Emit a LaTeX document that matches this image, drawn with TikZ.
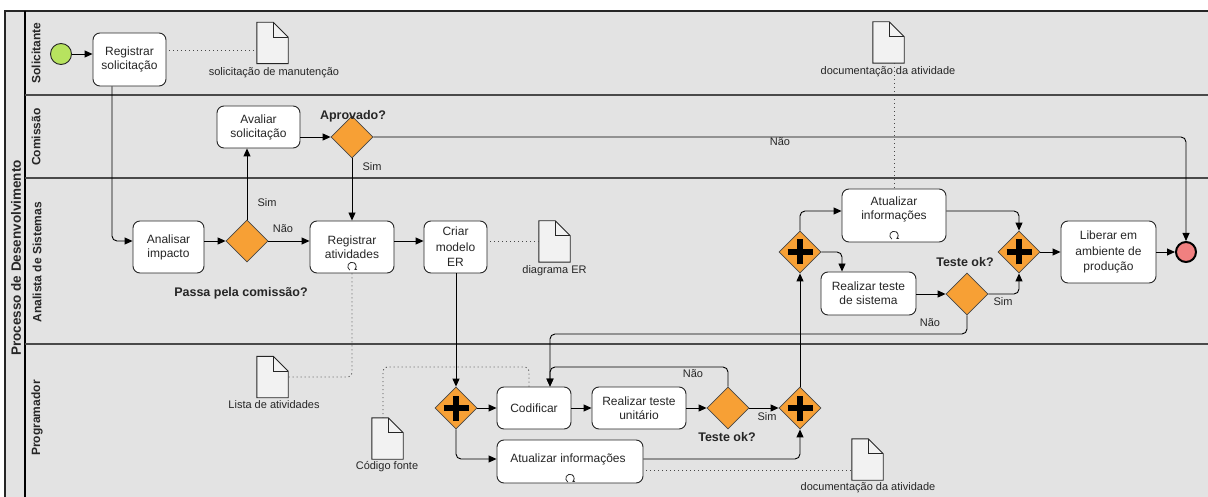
\documentclass[tikz,border=0pt]{standalone}
\usepackage{fontspec}
\setmainfont{Liberation Sans}
\usetikzlibrary{shapes.geometric,arrows.meta,calc}

\definecolor{laneFill}{HTML}{E3E3E3}
\definecolor{laneLine}{HTML}{4A4A4A}
\definecolor{gwFill}{HTML}{F7A035}
\definecolor{startFill}{HTML}{B7E35F}
\definecolor{endFill}{HTML}{F08080}
\definecolor{docFill}{HTML}{F2F2F2}
\definecolor{ink}{HTML}{262626}

% data object: named box plus folded-corner outline
\newcommand\docshape[2]{%
  \node[docbox] (#1) at (#2) {};
  \draw[docline] (#1.north west) -- ([xshift=-15pt]#1.north east)
     -- ([yshift=-15pt]#1.north east) -- (#1.south east) -- (#1.south west) -- cycle;
  \draw[docline, fill=none] ([xshift=-15pt]#1.north east) |- ([yshift=-15pt]#1.north east);
}
% loop marker: open circle with a small tip, centred #2 above the point #1
\newcommand\loopmark[2]{%
  \draw[ink, line width=0.75pt, -{Stealth[length=2.4pt,width=3pt]}]
    ($(#1)+(-2.2,3.6-#2)$) arc[start angle=121, end angle=415, radius=4.2];
}

\begin{document}
\begin{tikzpicture}[x=1pt,y=-1pt,
  task/.style={draw=ink, fill=white, rounded corners=7pt, line width=0.9pt,
    align=center, inner sep=0pt, font=\fontsize{12}{14}\selectfont, text=ink},
  gw/.style={diamond, draw=ink!85, fill=gwFill, line width=0.8pt,
    minimum width=42pt, minimum height=42pt, inner sep=0pt},
  par/.style={gw, path picture={
    \draw[black, line width=5.5pt]
      ([xshift=-12.5pt]path picture bounding box.center) -- ([xshift=12.5pt]path picture bounding box.center)
      ([yshift=-12.5pt]path picture bounding box.center) -- ([yshift=12.5pt]path picture bounding box.center);}},
  flow/.style={draw=black, line width=0.9pt, rounded corners=5pt,
    -{Triangle[length=8pt,width=7pt]}},
  assoc/.style={draw=ink!85, line width=0.9pt, dash pattern=on 1pt off 3pt, rounded corners=4pt},
  lbl/.style={font=\fontsize{11}{13}\selectfont, text=ink, inner sep=0pt},
  qlbl/.style={font=\bfseries\fontsize{12.5}{14}\selectfont, text=ink, inner sep=0pt},
  lanelbl/.style={font=\bfseries\fontsize{12}{14}\selectfont, rotate=90, text=ink, inner sep=0pt},
  docbox/.style={minimum width=31pt, minimum height=41pt, inner sep=0pt},
  docline/.style={draw=ink, fill=docFill, line width=0.9pt, line join=miter},
  lane/.style={draw=laneLine, line width=1.8pt}
]
\useasboundingbox (0,0) rectangle (1208,497);
\fill[white] (0,0) rectangle (1208,497);

% ---- pool and lanes ----
\fill[laneFill] (5,11) rectangle (1208,497);
\draw[ink, line width=1.5pt] (5,497) -- (5,11) -- (1208,11);
\draw[black, line width=2pt] (25,11) -- (25,497);
\draw[lane] (25,95) -- (1208,95);
\draw[lane] (25,178) -- (1208,178);
\draw[lane] (25,344) -- (1208,344);

\node[font=\bfseries\fontsize{13.5}{15}\selectfont, rotate=90, text=ink, inner sep=0pt] (pool) at (16,258) {Processo de Desenvolvimento};
\node[lanelbl] (l1) at (36,53) {Solicitante};
\node[lanelbl] (l2) at (36,137) {Comissão};
\node[lanelbl] (l3) at (37,262) {Analista de Sistemas};
\node[lanelbl] (l4) at (37,418) {Programador};

% ---- events ----
\node[circle, draw=ink, fill=startFill, line width=0.9pt, minimum size=21pt, inner sep=0pt] (s) at (61,54) {};
\node[circle, draw=black, fill=endFill, line width=2pt, minimum size=20pt, inner sep=0pt] (e) at (1186,252) {};

% ---- tasks ----
\node[task, minimum width=73pt, minimum height=53pt] (t1) at (129.5,59.5) {Registrar\\solicitação};
\node[task, minimum width=83pt, minimum height=42pt] (t5) at (258.5,127) {Avaliar\\solicitação};
\node[task, minimum width=71pt, minimum height=52pt] (t2) at (168.5,247) {Analisar\\impacto};
\node[task, minimum width=84pt, minimum height=52pt] (t3) at (352,247) {Registrar\\atividades};
\node[task, minimum width=63pt, minimum height=52pt, font=\fontsize{12}{15.5}\selectfont] (t4) at (455.5,247) {Criar\\modelo\\ER};
\node[task, minimum width=104pt, minimum height=53pt] (t6) at (894,215.5) {};
\node[font=\fontsize{12}{14}\selectfont, align=center, text=ink, inner sep=0pt] (t6txt) at (894,209.5) {Atualizar\\informações};
\node[task, minimum width=95pt, minimum height=43pt] (t7) at (868.5,293.5) {Realizar teste\\de sistema};
\node[task, minimum width=95pt, minimum height=62pt, font=\fontsize{12}{15.5}\selectfont] (t8) at (1108.5,252) {Liberar em\\ambiente de\\produção};
\node[task, minimum width=74pt, minimum height=42pt] (t9) at (534,408) {Codificar};
\node[task, minimum width=94pt, minimum height=42pt] (t10) at (639,408) {Realizar teste\\unitário};
\node[task, minimum width=146pt, minimum height=43pt] (t11) at (570,461.5) {};
\node[font=\fontsize{12}{14}\selectfont, text=ink, inner sep=0pt] (t11txt) at (568,459) {Atualizar informações};

\loopmark{t3.south}{7}
\loopmark{t6.south}{7}
\loopmark{t11.south}{5}

% ---- gateways ----
\node[gw] (g1) at (247,241) {};
\node[gw] (g2) at (352,137) {};
\node[gw] (g3) at (967,294) {};
\node[gw] (g4) at (728,408) {};
\node[par] (p1) at (456,408) {};
\node[par] (p2) at (800,408) {};
\node[par] (p3) at (800,252) {};
\node[par] (p4) at (1019,252) {};

% ---- data objects ----
\docshape{d1}{272.5,43}
\docshape{d2}{554.5,241.5}
\docshape{d3}{272.5,377}
\docshape{d4}{387.5,438.5}
\docshape{d5}{867.5,459.5}
\docshape{d6}{888.5,42.5}

\node[lbl] (d1l) at (274,73) {solicitação de manutenção};
\node[lbl] (d2l) at (554.5,271) {diagrama ER};
\node[lbl] (d3l) at (274,405) {Lista de atividades};
\node[lbl] (d4l) at (387,467) {Código fonte};
\node[lbl] (d5l) at (868,488) {documentação da atividade};
\node[lbl] (d6l) at (888,72) {documentação da atividade};

% ---- routing points ----
\coordinate (c1) at ($(t1.south)+(-17.5,0)$);
\coordinate (c7) at ($(t7.north)+(-26.5,0)$);
\coordinate (r1) at (550,367);
\coordinate (r2) at (550,334);
\coordinate (c9) at ($(t9.north)+(-5,0)$);
\coordinate (d4t) at ($(d4.north)+(-4.5,0)$);

% ---- associations ----
\draw[assoc, shorten <=3pt] (t1.east |- 0,50) -- (d1.west |- 0,50);
\draw[assoc, shorten <=3pt] (t4.east |- g1) -- (d2.west |- g1);
\draw[assoc] (t3.south) |- (d3.east);
\draw[assoc] (c9) |- (d4t |- r1) -- (d4t);
\draw[assoc, shorten <=3pt] (t11.east |- 0,470) -- (d5.west |- 0,470);
\draw[assoc] (d6.south -| t6.north) -- (t6.north);

% ---- sequence flows ----
\draw[flow] (s.east) -- (t1.west |- s);
\draw[flow] (c1) |- (t2.west |- g1);
\draw[flow] (t2.east |- g1) -- (g1.west);
\draw[flow] (g1.north) -- (g1.north |- t5.south);
\draw[flow] (g1.east) -- (t3.west |- g1);
\draw[flow] (t5.east |- g2) -- (g2.west);
\draw[flow] (g2.south) -- (t3.north);
\draw[flow] (g2.east) -| (e.north);
\draw[flow] (t3.east |- g1) -- (t4.west |- g1);
\draw[flow] (t4.south -| p1) -- (p1.north);
\draw[flow] (p1.east) -- (t9.west);
\draw[flow] (t9.east) -- (t10.west);
\draw[flow] (t10.east) -- (g4.west);
\draw[flow] (g4.east) -- (p2.west);
\draw[flow] (g4.north) |- (r1) -- (t9.north -| r1);
\draw[flow] (p1.south) |- (t11.west |- t11txt);
\draw[flow] (t11.east |- t11txt) -| (p2.south);
\draw[flow] (p2.north) -- (p3.south);
\draw[flow] (p3.north) |- (t6.west |- 0,211);
\draw[flow] (p3.east) -| (c7);
\draw[flow] (t6.east |- 0,211) -| (p4.north);
\draw[flow] (t7.east |- g3) -- (g3.west);
\draw[flow] (g3.east) -| (p4.south);
\draw[flow] (g3.south) |- (r2) -- (t9.north -| r2);
\draw[flow] (p4.east) -- (t8.west);
\draw[flow] (t8.east) -- (e.west);

% ---- flow labels ----
\node[lbl] (n1) at (267,203) {Sim};
\node[lbl] (n2) at (283,229) {Não};
\node[qlbl] (q1) at (353,116) {Aprovado?};
\node[lbl] (n3) at (372,167) {Sim};
\node[lbl] (n4) at (780,142) {Não};
\node[qlbl] (q2) at (241,293) {Passa pela comissão?};
\node[lbl] (n5) at (693,374) {Não};
\node[lbl] (n6) at (767,417) {Sim};
\node[qlbl] (q3) at (727,437) {Teste ok?};
\node[qlbl] (q4) at (965,262) {Teste ok?};
\node[lbl] (n7) at (1003,302) {Sim};
\node[lbl] (n8) at (930,323) {Não};
\end{tikzpicture}
\end{document}
